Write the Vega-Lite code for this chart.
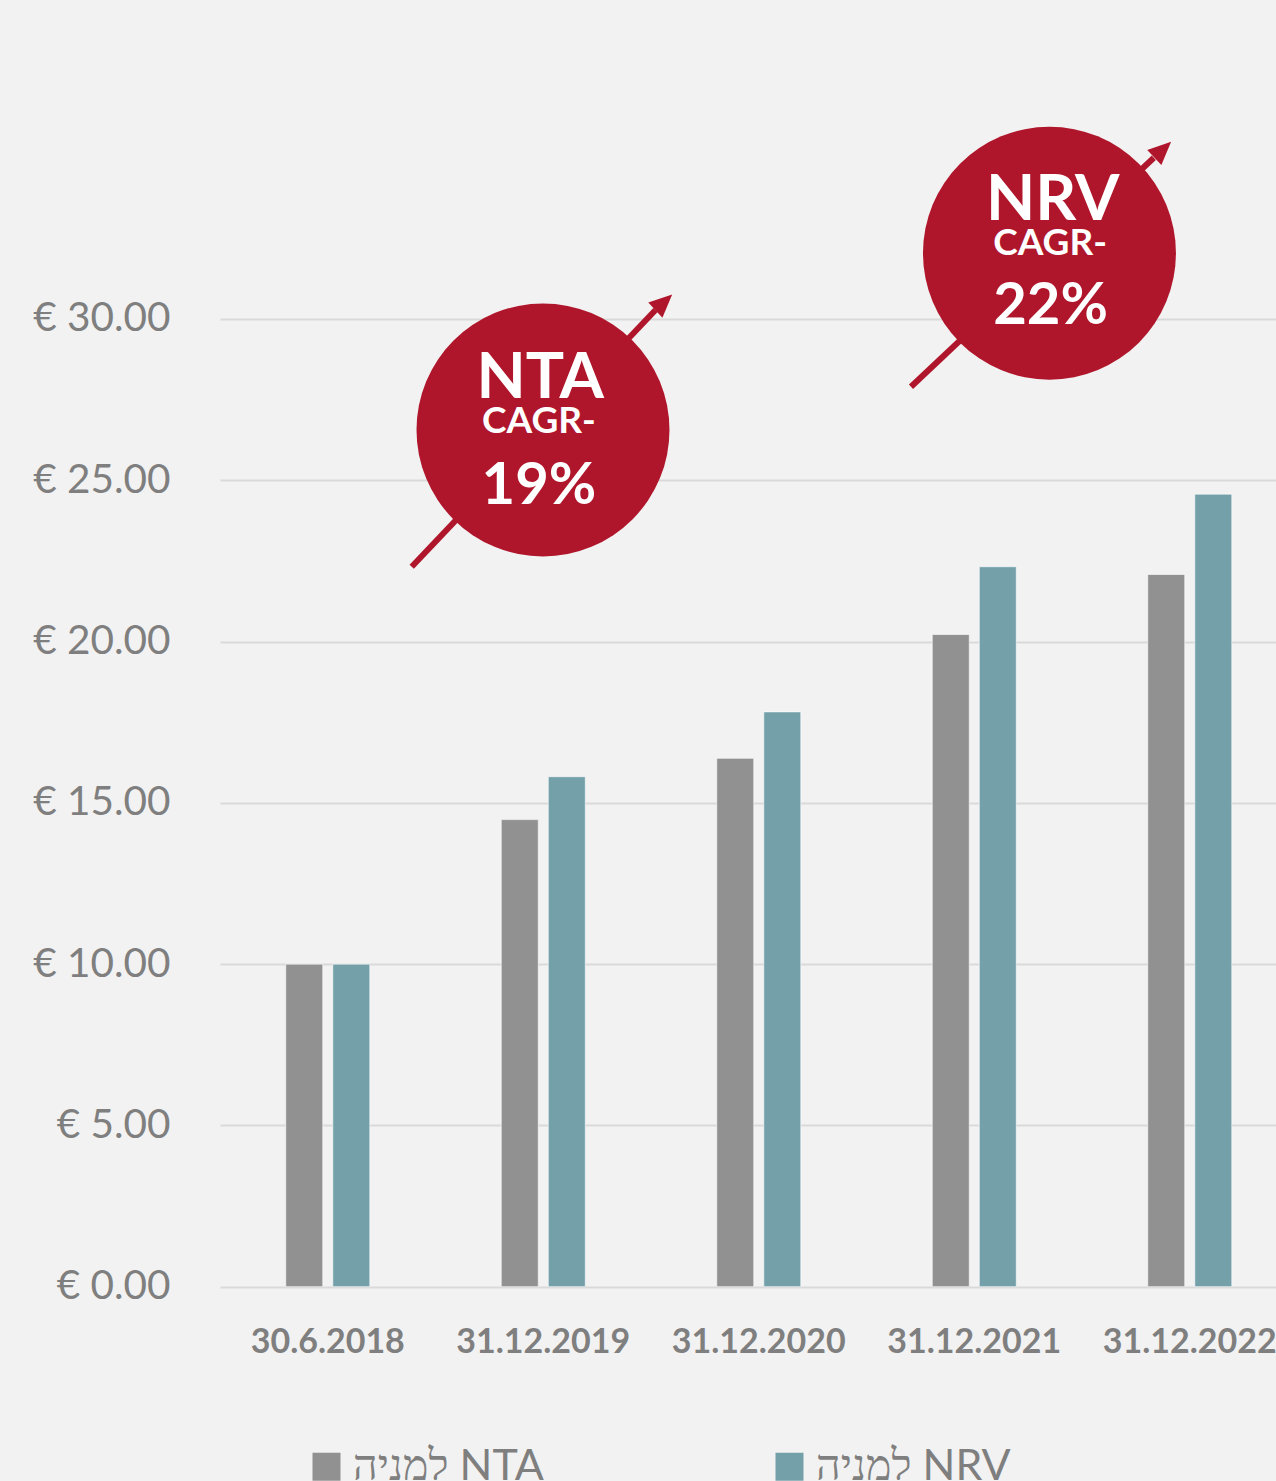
{
  "$schema": "https://vega.github.io/schema/vega-lite/v6.json",
  "autosize": "none",
  "padding": {"left": 220, "top": 319, "right": 0, "bottom": 194},
  "width": 1056,
  "height": 967.7,
  "background": "#f2f2f2",
  "config": {
    "view": {"stroke": null},
    "font": "Lato",
    "axisY": {
      "title": null, "domain": false, "ticks": false, "grid": true,
      "gridColor": "#d9d9d9", "gridWidth": 2,
      "labelFont": "Lato", "labelFontWeight": "normal", "labelFontSize": 40.5,
      "labelColor": "#7f7f7f", "labelPadding": 50
    }
  },
  "datasets": {
    "bars": [
      {"date": "30.6.2018", "series": "למניה NTA", "value": 10.0},
      {"date": "30.6.2018", "series": "למניה NRV", "value": 10.0},
      {"date": "31.12.2019", "series": "למניה NTA", "value": 14.48},
      {"date": "31.12.2019", "series": "למניה NRV", "value": 15.81},
      {"date": "31.12.2020", "series": "למניה NTA", "value": 16.38},
      {"date": "31.12.2020", "series": "למניה NRV", "value": 17.82},
      {"date": "31.12.2021", "series": "למניה NTA", "value": 20.22},
      {"date": "31.12.2021", "series": "למניה NRV", "value": 22.32},
      {"date": "31.12.2022", "series": "למניה NTA", "value": 22.08},
      {"date": "31.12.2022", "series": "למניה NRV", "value": 24.57}
    ],
    "circles": [
      {"name": "NTA", "x": 1.4988, "y": 26.56},
      {"name": "NRV", "x": 3.849, "y": 32.04}
    ],
    "arrows": [
      {"name": "NTA", "x": 0.8896, "y": 22.32, "x2": 2.0209, "y2": 30.28},
      {"name": "NRV", "x": 3.2065, "y": 27.90, "x2": 4.3332, "y2": 35.0}
    ],
    "heads": [
      {"name": "NTA", "x": 2.0592, "y": 30.52},
      {"name": "NRV", "x": 4.3745, "y": 35.25}
    ],
    "labels": [
      {"name": "NTA", "kind": "name", "text": "NTA", "x": 1.486, "y": 27.54},
      {"name": "NTA", "kind": "cagr", "text": "CAGR-", "x": 1.48, "y": 26.47},
      {"name": "NTA", "kind": "pct", "text": "19%", "x": 1.48, "y": 24.28},
      {"name": "NRV", "kind": "name", "text": "NRV", "x": 3.864, "y": 33.07},
      {"name": "NRV", "kind": "cagr", "text": "CAGR-", "x": 3.852, "y": 31.98},
      {"name": "NRV", "kind": "pct", "text": "22%", "x": 3.854, "y": 29.84}
    ]
  },
  "layer": [
    {
      "data": {"name": "bars"},
      "mark": {"type": "bar", "stroke": "#ffffff", "strokeOpacity": 0.6, "strokeWidth": 1},
      "encoding": {
        "x": {
          "field": "date", "type": "nominal", "sort": null,
          "scale": {"paddingInner": 0.61, "paddingOuter": 0.2551, "align": 0.598, "round": false},
          "axis": {
            "title": null, "labelAngle": 0, "domain": false, "ticks": false, "grid": false,
            "labelFont": "Lato", "labelFontWeight": "bold", "labelFontSize": 34,
            "labelColor": "#7f7f7f", "labelPadding": 39
          }
        },
        "xOffset": {
          "field": "series", "type": "nominal",
          "scale": {"domain": ["למניה NTA", "למניה NRV"], "paddingInner": 0.213, "paddingOuter": 0, "round": false}
        },
        "y": {
          "field": "value", "type": "quantitative",
          "scale": {"domain": [0, 30], "nice": false},
          "axis": {
            "title": null, "values": [0, 5, 10, 15, 20, 25, 30],
            "labelExpr": "'€ ' + format(datum.value, '.2f')"
          }
        },
        "color": {
          "field": "series", "type": "nominal",
          "scale": {"domain": ["למניה NTA", "למניה NRV"], "range": ["#919191", "#74a0aa"]},
          "legend": {
            "title": null, "orient": "none", "direction": "horizontal",
            "legendX": 85, "legendY": 1126, "padding": 0,
            "symbolType": "square", "symbolSize": 784, "symbolStrokeWidth": 0, "symbolOpacity": 1,
            "labelFont": "Lato", "labelFontWeight": "normal", "labelFontSize": 43, "labelColor": "#7f7f7f",
            "labelOffset": 5, "columnPadding": 224, "labelLimit": 400
          }
        }
      }
    },
    {
      "encoding": {
        "x": {"field": "x", "type": "quantitative", "scale": {"domain": [0, 4.9002], "nice": false, "zero": false}, "axis": null},
        "y": {
          "field": "y", "type": "quantitative", "scale": {"domain": [0, 30], "nice": false},
          "axis": {
            "title": null, "values": [0, 5, 10, 15, 20, 25, 30],
            "labelExpr": "'€ ' + format(datum.value, '.2f')"
          }
        }
      },
      "layer": [
        {
          "data": {"name": "arrows"},
          "mark": {"type": "rule", "color": "#b0162b", "strokeWidth": 6},
          "encoding": {
            "x2": {"field": "x2"},
            "y2": {"field": "y2"}
          }
        },
        {
          "data": {"name": "heads"},
          "mark": {"type": "point", "shape": "M0,-1L-0.9,1L0.9,1Z", "size": 529, "filled": true, "opacity": 1, "color": "#b0162b", "angle": 47, "strokeWidth": 0},
          "encoding": {}
        },
        {
          "data": {"name": "circles"},
          "mark": {"type": "point", "shape": "circle", "size": 64000, "filled": true, "opacity": 1, "color": "#b0162b", "strokeWidth": 0},
          "encoding": {}
        },
        {
          "data": {"name": "labels"},
          "transform": [{"filter": "datum.kind == 'name'"}],
          "mark": {"type": "text", "font": "Lato", "fontWeight": "bold", "fontSize": 64, "color": "#ffffff", "align": "center", "baseline": "alphabetic"},
          "encoding": {"text": {"field": "text"}}
        },
        {
          "data": {"name": "labels"},
          "transform": [{"filter": "datum.kind == 'cagr'"}],
          "mark": {"type": "text", "font": "Lato", "fontWeight": "bold", "fontSize": 37, "color": "#ffffff", "align": "center", "baseline": "alphabetic"},
          "encoding": {"text": {"field": "text"}}
        },
        {
          "data": {"name": "labels"},
          "transform": [{"filter": "datum.kind == 'pct'"}],
          "mark": {"type": "text", "font": "Lato", "fontWeight": "bold", "fontSize": 58, "color": "#ffffff", "align": "center", "baseline": "alphabetic"},
          "encoding": {"text": {"field": "text"}}
        }
      ]
    }
  ],
  "resolve": {"scale": {"x": "independent"}}
}
